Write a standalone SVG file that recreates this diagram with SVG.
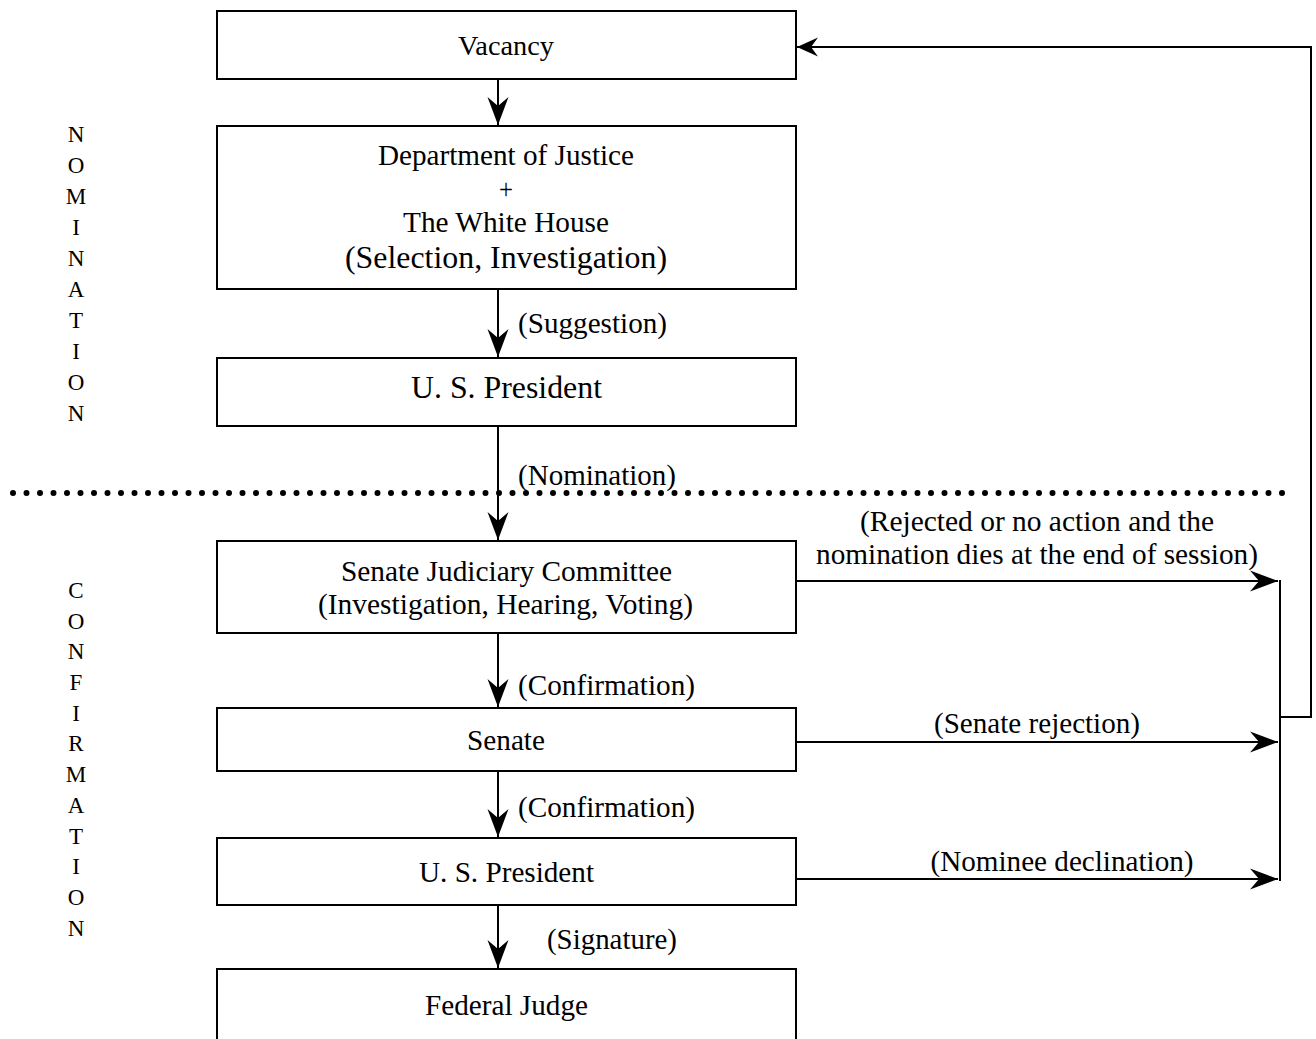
<svg xmlns="http://www.w3.org/2000/svg" width="1316" height="1039" viewBox="0 0 1316 1039">
<style>
.box{fill:#fff;stroke:#000;stroke-width:2}
.t{font-family:"Liberation Serif","Times New Roman",serif;fill:#000;text-anchor:middle;font-size:29px}
.l{font-family:"Liberation Serif","Times New Roman",serif;fill:#000;font-size:29px}
.c{fill:none;stroke:#000;stroke-width:2}
.side{font-family:"Liberation Serif","Times New Roman",serif;fill:#000;font-size:23px;text-anchor:middle}
</style>
<defs>
<marker id="ah" markerUnits="userSpaceOnUse" markerWidth="30" markerHeight="24" viewBox="-28 -11 30 22" refX="0" refY="0" orient="auto">
<path d="M0,0 L-28,-10.5 L-19,0 L-28,10.5 Z" fill="#000"/>
</marker>
<marker id="ah2" markerUnits="userSpaceOnUse" markerWidth="24" markerHeight="22" viewBox="-22 -10 24 20" refX="0" refY="0" orient="auto">
<path d="M0,0 L-21,-9.5 L-14,0 L-21,9.5 Z" fill="#000"/>
</marker>
</defs>

<g id="connectors">
<line class="c" x1="498" y1="79" x2="498" y2="125" marker-end="url(#ah)"/>
<line class="c" x1="498" y1="289" x2="498" y2="357" marker-end="url(#ah)"/>
<line class="c" x1="498" y1="426" x2="498" y2="540" marker-end="url(#ah)"/>
<line class="c" x1="498" y1="633" x2="498" y2="707" marker-end="url(#ah)"/>
<line class="c" x1="498" y1="771" x2="498" y2="837" marker-end="url(#ah)"/>
<line class="c" x1="498" y1="905" x2="498" y2="968" marker-end="url(#ah)"/>
<line class="c" x1="796" y1="581" x2="1278" y2="581" marker-end="url(#ah)"/>
<line class="c" x1="796" y1="742" x2="1278" y2="742" marker-end="url(#ah)"/>
<line class="c" x1="796" y1="879" x2="1278" y2="879" marker-end="url(#ah)"/>
<line class="c" x1="1280" y1="580" x2="1280" y2="881"/>
<polyline class="c" points="1280,717 1311,717 1311,47 797,47" marker-end="url(#ah2)"/>
<line x1="13" y1="493" x2="1290" y2="493" stroke="#000" stroke-width="6" stroke-linecap="round" stroke-dasharray="0 13.5"/>
<text class="l" x="518" y="333" textLength="149" lengthAdjust="spacingAndGlyphs">(Suggestion)</text>
<text class="l" x="518" y="485" textLength="158" lengthAdjust="spacingAndGlyphs">(Nomination)</text>
<text class="l" x="518" y="695" textLength="177" lengthAdjust="spacingAndGlyphs">(Confirmation)</text>
<text class="l" x="518" y="817" textLength="177" lengthAdjust="spacingAndGlyphs">(Confirmation)</text>
<text class="l" x="547" y="949" textLength="130" lengthAdjust="spacingAndGlyphs">(Signature)</text>
<text class="t" x="1037" y="531" textLength="354" lengthAdjust="spacingAndGlyphs">(Rejected or no action and the</text>
<text class="t" x="1037" y="564" textLength="442" lengthAdjust="spacingAndGlyphs">nomination dies at the end of session)</text>
<text class="t" x="1037" y="733" textLength="206" lengthAdjust="spacingAndGlyphs">(Senate rejection)</text>
<text class="t" x="1062" y="871" textLength="263" lengthAdjust="spacingAndGlyphs">(Nominee declination)</text>
</g>

<g id="n-vacancy">
<rect class="box" x="217" y="11" width="579" height="68"/>
<text class="t" style="font-size:27.5px" x="506" y="55" textLength="96" lengthAdjust="spacingAndGlyphs">Vacancy</text>
</g>
<g id="n-doj">
<rect class="box" x="217" y="126" width="579" height="163"/>
<text class="t" x="506" y="165" textLength="256" lengthAdjust="spacingAndGlyphs">Department of Justice</text>
<text class="t" x="506" y="199" textLength="14" lengthAdjust="spacingAndGlyphs">+</text>
<text class="t" x="506" y="232" textLength="206" lengthAdjust="spacingAndGlyphs">The White House</text>
<text class="t" style="font-size:32px" x="506" y="268" textLength="322" lengthAdjust="spacingAndGlyphs">(Selection, Investigation)</text>
</g>
<g id="n-president1">
<rect class="box" x="217" y="358" width="579" height="68"/>
<text class="t" style="font-size:32px" x="506.5" y="398" textLength="191" lengthAdjust="spacingAndGlyphs">U. S. President</text>
</g>
<g id="n-sjc">
<rect class="box" x="217" y="541" width="579" height="92"/>
<text class="t" x="506.5" y="581" textLength="331" lengthAdjust="spacingAndGlyphs">Senate Judiciary Committee</text>
<text class="t" x="505.5" y="614" textLength="375" lengthAdjust="spacingAndGlyphs">(Investigation, Hearing, Voting)</text>
</g>
<g id="n-senate">
<rect class="box" x="217" y="708" width="579" height="63"/>
<text class="t" x="506" y="750" textLength="78" lengthAdjust="spacingAndGlyphs">Senate</text>
</g>
<g id="n-president2">
<rect class="box" x="217" y="838" width="579" height="67"/>
<text class="t" x="506.5" y="882" textLength="175" lengthAdjust="spacingAndGlyphs">U. S. President</text>
</g>
<g id="n-judge">
<rect class="box" x="217" y="969" width="579" height="80"/>
<text class="t" x="506.5" y="1015" textLength="163" lengthAdjust="spacingAndGlyphs">Federal Judge</text>
</g>

<g id="side-nomination">
<text class="side" x="76" y="142">N</text>
<text class="side" x="76" y="173">O</text>
<text class="side" x="76" y="204">M</text>
<text class="side" x="76" y="235">I</text>
<text class="side" x="76" y="266">N</text>
<text class="side" x="76" y="297">A</text>
<text class="side" x="76" y="328">T</text>
<text class="side" x="76" y="359">I</text>
<text class="side" x="76" y="390">O</text>
<text class="side" x="76" y="421">N</text>
</g>
<g id="side-confirmation">
<text class="side" x="76" y="598">C</text>
<text class="side" x="76" y="629">O</text>
<text class="side" x="76" y="659">N</text>
<text class="side" x="76" y="690">F</text>
<text class="side" x="76" y="721">I</text>
<text class="side" x="76" y="751">R</text>
<text class="side" x="76" y="782">M</text>
<text class="side" x="76" y="813">A</text>
<text class="side" x="76" y="844">T</text>
<text class="side" x="76" y="874">I</text>
<text class="side" x="76" y="905">O</text>
<text class="side" x="76" y="936">N</text>
</g>
</svg>
